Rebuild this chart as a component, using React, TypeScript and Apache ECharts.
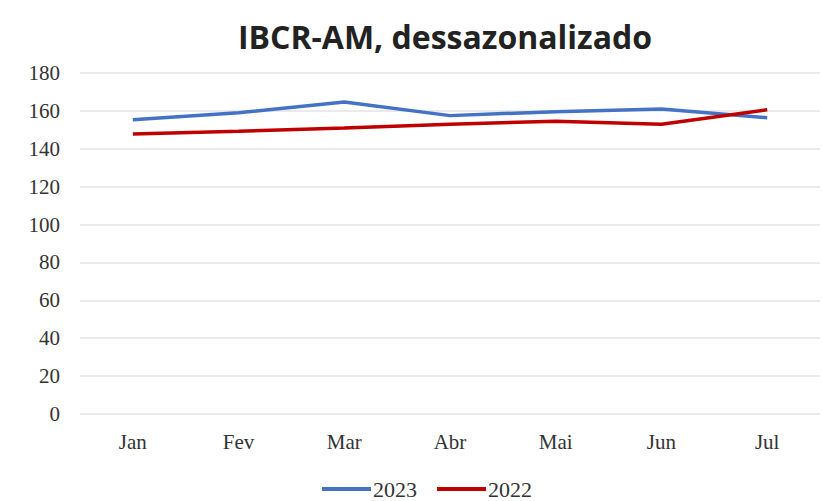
import React, { useEffect, useRef } from "react";
import * as echarts from "echarts";

const categories = ["Jan", "Fev", "Mar", "Abr", "Mai", "Jun", "Jul"];
const series2023 = [155.3, 159.0, 164.7, 157.5, 159.6, 161.0, 156.4];
const series2022 = [147.8, 149.3, 151.0, 153.0, 154.5, 153.0, 160.6];
const yTicks = { min: 0, max: 180, interval: 20 };

export default function App() {
  const ref = useRef<HTMLDivElement>(null);
  useEffect(() => {
    const chart = echarts.init(ref.current!, null, { renderer: "svg" });
    chart.setOption({
      animation: false,
      backgroundColor: "#ffffff",
      title: {
        text: "IBCR-AM, dessazonalizado",
        left: 440,
        textAlign: "center",
        top: 15,
        textStyle: { fontFamily: "Open Sans", fontWeight: "bold", fontSize: 32, color: "#222" },
      },
      grid: { left: 80, right: 3, top: 73, bottom: 87 },
      xAxis: {
        type: "category",
        data: categories,
        boundaryGap: true,
        axisLine: { show: false },
        axisTick: { show: false },
        axisLabel: { fontFamily: "Liberation Serif", fontSize: 21, color: "#333", margin: 17 },
      },
      yAxis: {
        type: "value",
        min: yTicks.min,
        max: yTicks.max,
        interval: yTicks.interval,
        axisLine: { show: false },
        axisTick: { show: false },
        splitLine: { lineStyle: { color: "#e3e3e3", width: 1.5 } },
        axisLabel: { fontFamily: "Liberation Serif", fontSize: 21, color: "#333", margin: 20 },
      },
      legend: {
        top: 478,
        left: 322,
        itemWidth: 49,
        itemHeight: 4,
        itemGap: 20,
        icon: "rect",
        padding: 0,
        textStyle: { fontFamily: "Liberation Serif", fontSize: 22, lineHeight: 22, color: "#333", padding: [0, 0, 0, -3] },
        data: ["2023", "2022"],
      },
      series: [
        {
          name: "2023",
          type: "line",
          data: series2023,
          symbol: "none",
          lineStyle: { color: "#4472C4", width: 3.5 },
          itemStyle: { color: "#4472C4" },
        },
        {
          name: "2022",
          type: "line",
          data: series2022,
          symbol: "none",
          lineStyle: { color: "#C00000", width: 3.5 },
          itemStyle: { color: "#C00000" },
        },
      ],
    });
    return () => chart.dispose();
  }, []);
  return <div ref={ref} style={{ width: 823, height: 501, position: "absolute", left: 0, top: 0 }} />;
}
